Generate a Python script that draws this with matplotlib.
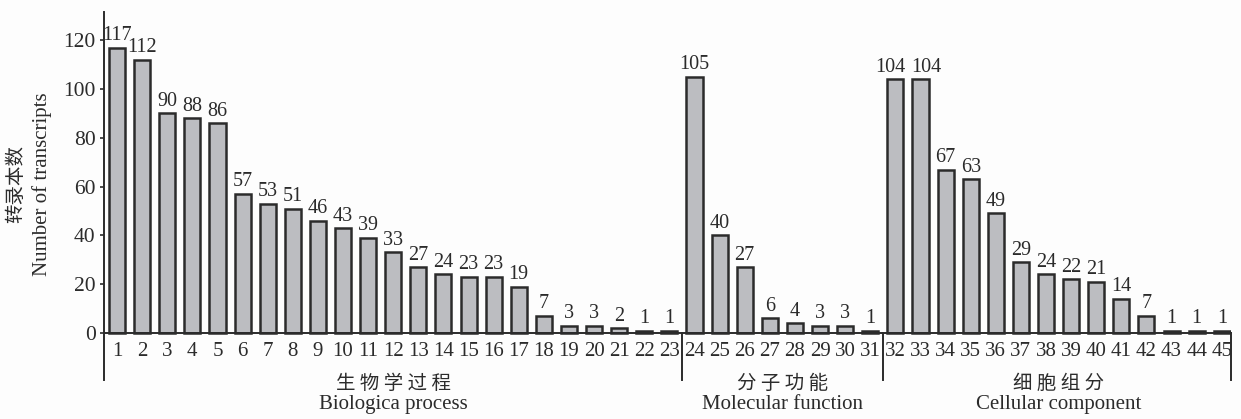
import matplotlib.pyplot as plt

# GO term counts, three categories
bp_counts = [117, 112, 90, 88, 86, 57, 53, 51, 46, 43, 39, 33, 27, 24, 23, 23, 19, 7, 3, 3, 2, 1, 1]
mf_counts = [105, 40, 27, 6, 4, 3, 3, 1]
cc_counts = [104, 104, 67, 63, 49, 29, 24, 22, 21, 14, 7, 1, 1, 1]
groups_cn = ['生物学过程', '分子功能', '细胞组分']
groups_en = ['Biologica process', 'Molecular function', 'Cellular component']

counts = bp_counts + mf_counts + cc_counts
positions = list(range(1, len(counts) + 1))
sizes = [len(bp_counts), len(mf_counts), len(cc_counts)]

serif = ['Liberation Serif', 'DejaVu Serif']
cjk = ['Noto Sans CJK SC', 'DejaVu Sans']
ink = '#2b2b2b'

fig = plt.figure(figsize=(12.41, 4.19), dpi=100)
fig.patch.set_facecolor('#fdfdfd')
ax = fig.add_axes([0.0838, 0.093, 0.908, 0.878])
ax.set_facecolor('#fdfdfd')

ax.bar(positions, counts, width=0.64, color='#bcbdc1', edgecolor=ink, linewidth=1.8, zorder=3)
for x, v in zip(positions, counts):
    # the two equal neighbours at 32/33 get pushed apart a little
    dx = {32: -0.22, 33: 0.22}.get(x, 0)
    ax.text(x + dx, v + 1.0, str(v), ha='center', va='bottom', fontsize=14.5, family=serif, color=ink)
    ax.text(x, -3.6, str(x), ha='center', va='top', fontsize=15, family=serif, color=ink)

xmin, xmax = 0.48, 45.36
ymin, ymax = -19.3, 131.5
ax.set_xlim(xmin, xmax)
ax.set_ylim(ymin, ymax)

# baseline, right end and group separators
ax.plot([xmin, xmax], [0, 0], color=ink, lw=1.4, zorder=4, clip_on=False)
edges = [sizes[0] + 0.5, sizes[0] + sizes[1] + 0.5, xmax]
for e in edges:
    ax.plot([e, e], [ymin, 0], color=ink, lw=1.4, clip_on=False)

# category labels under the axis
start = 1
for s, cn, en in zip(sizes, groups_cn, groups_en):
    mid = start + (s - 1) / 2
    ax.text(mid, -20.6, ' '.join(cn), ha='center', va='center', fontsize=14, family=cjk, color=ink, clip_on=False)
    ax.text(mid, -29.2, en, ha='center', va='center', fontsize=15, family=serif, color=ink, clip_on=False)
    start += s

for side in ['top', 'right', 'bottom']:
    ax.spines[side].set_visible(False)
ax.spines['left'].set_color(ink)
ax.spines['left'].set_linewidth(1.4)
ax.set_xticks([])
ax.set_yticks(range(0, 121, 20))
ax.tick_params(axis='y', direction='out', length=3, width=1.2, color=ink, labelsize=15.5, labelcolor=ink, pad=3)
for lab in ax.get_yticklabels():
    lab.set_family(serif)

fig.text(0.013, 0.56, '转录本数', rotation=90, ha='center', va='center', fontsize=14, family=cjk, color=ink)
fig.text(0.034, 0.56, 'Number of transcripts', rotation=90, ha='center', va='center', fontsize=15, family=serif, color=ink)

fig.savefig('out.png', dpi=100, facecolor=fig.get_facecolor())
